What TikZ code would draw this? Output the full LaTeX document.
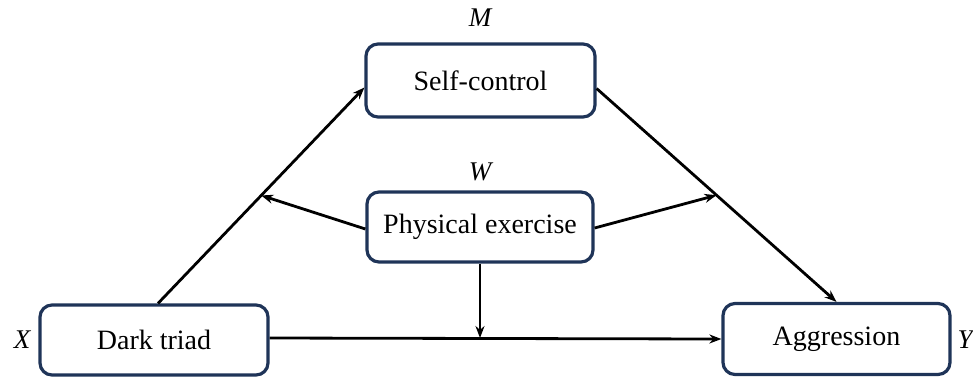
\documentclass[tikz,border=0pt]{standalone}
\usepackage{fontspec}
\setmainfont{Liberation Serif}
\usetikzlibrary{arrows.meta,calc}
\definecolor{boxblue}{HTML}{1F3458}
\begin{document}
\begin{tikzpicture}[x=1pt,y=-1pt,
  box/.style={draw=boxblue,line width=3.2pt,rounded corners=12pt,fill=white,inner sep=0pt,
    font=\fontsize{28}{32}\selectfont},
  lab/.style={font=\fontsize{27}{30}\selectfont\itshape,inner sep=0pt},
  conn/.style={line width=2.8pt,-{Stealth[length=12pt,width=9pt]}},
  plain/.style={line width=2.8pt}]
\useasboundingbox (0,0) rectangle (973,376);
\node[box,minimum width=229pt,minimum height=73pt] (sc) at (480.5,80.5) {Self-control};
\node[box,minimum width=226pt,minimum height=70pt] (pe) at (480,227) {Physical exercise};
\node[box,minimum width=228pt,minimum height=70pt] (dt) at (154,340) {Dark triad};
\node[box,minimum width=227pt,minimum height=71pt] (ag) at (836.5,339) {\raisebox{-3pt}{Aggression}};
\node[lab] (lm) at (480,18) {M};
\node[lab] (lw) at (480,172) {W};
\node[lab] (lx) at (22,340) {X};
\node[lab] (ly) at (965,340) {Y};
\coordinate (a1) at ([xshift=4pt]dt.north);
\coordinate (a2) at ([yshift=-7pt]sc.west);
\coordinate (b1) at ([yshift=-8pt]sc.east);
\coordinate (b2) at (ag.north);
\draw[conn] (a1) -- (a2);
\draw[conn] (b1) -- (b2);
\coordinate (pl) at ($(a1)!0.5!(a2)$);
\coordinate (pr) at ($(b1)!0.5!(b2)$);
\draw[conn] ([yshift=-2pt]pe.west) -- (pl);
\draw[conn] ([yshift=-1pt]pe.east) -- (pr);
\draw[conn] ([yshift=2pt]dt.east) -- (ag.west);
\coordinate (pd) at ($(pe.south |- ag.west)+(0,-1)$);
\draw[conn] (pe.south) -- (pd);
\end{tikzpicture}
\end{document}
